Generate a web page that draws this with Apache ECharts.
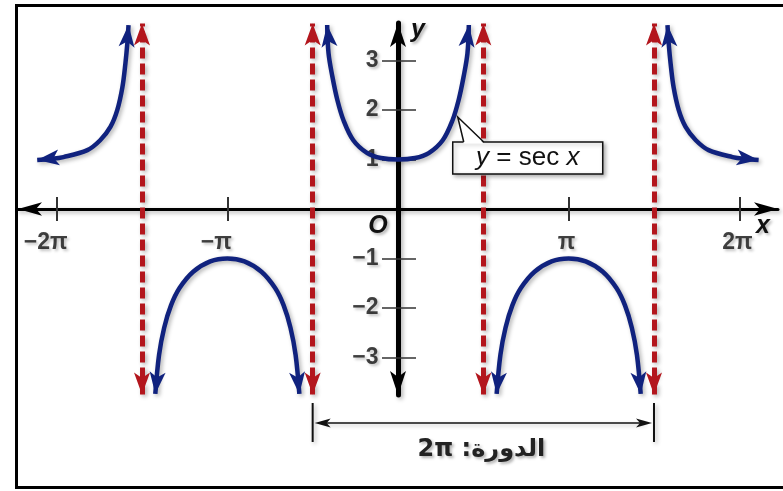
<!DOCTYPE html>
<html>
<head>
<meta charset="utf-8">
<title>y = sec x</title>
<script src="https://cdn.jsdelivr.net/npm/echarts@6/dist/echarts.min.js"></script>
<style>
html, body { margin: 0; padding: 0; background: #fff; }
#chart { width: 783px; height: 491px; }
</style>
</head>
<body>
<div id="chart"></div>
<script>
// x values are in multiples of pi
const xTickVals = [-2, -1, 1, 2];
const xTickLabels = ['−2π', '−π', 'π', '2π'];
const yTickVals = [-3, -2, -1, 1, 2, 3];
const yTickLabels = ['−3', '−2', '−1', '1', '2', '3'];
const asymptotes = [-1.5, -0.5, 0.5, 1.5];

// branches of y = sec x (ends are the arrow tips)
const leftUpX = [-2.114, -2.04, -1.96, -1.82, -1.745, -1.685, -1.645, -1.615, -1.597, -1.586, -1.579];
const leftUpY = [0.99, 1.01, 1.05, 1.19, 1.39, 1.66, 2.0, 2.46, 2.95, 3.35, 3.72];
const lowLeftX = [-1.422, -1.40, -1.37, -1.33, -1.28, -1.2, -1.1, -1.0, -0.9, -0.8, -0.72, -0.67, -0.63, -0.60, -0.578];
const lowLeftY = [-3.74, -2.95, -2.4, -1.95, -1.6, -1.27, -1.06, -1.0, -1.06, -1.27, -1.6, -1.95, -2.4, -2.95, -3.74];
const centerX = [-0.415, -0.407, -0.384, -0.355, -0.32, -0.262, -0.18, -0.1, 0, 0.1, 0.18, 0.262, 0.32, 0.355, 0.384, 0.407, 0.415];
const centerY = [3.72, 3.15, 2.67, 2.2, 1.8, 1.39, 1.13, 1.03, 1.0, 1.03, 1.13, 1.39, 1.8, 2.2, 2.67, 3.15, 3.72];
const lowRightX = [0.578, 0.60, 0.63, 0.67, 0.72, 0.8, 0.9, 1.0, 1.1, 1.2, 1.28, 1.33, 1.37, 1.40, 1.422];
const lowRightY = [-3.74, -2.95, -2.4, -1.95, -1.6, -1.27, -1.06, -1.0, -1.06, -1.27, -1.6, -1.95, -2.4, -2.95, -3.74];
const rightUpX = [1.579, 1.586, 1.597, 1.615, 1.645, 1.685, 1.745, 1.82, 1.96, 2.04, 2.113];
const rightUpY = [3.72, 3.35, 2.95, 2.46, 2.0, 1.66, 1.39, 1.19, 1.05, 1.01, 0.99];

const periodFrom = -0.5;
const periodTo = 1.5;
const periodText = '\u202Bالدورة: 2π\u202C';
const calloutAt = [0.35, 1.86];

const xMin = -2.2265, xMax = 2.2265;
const yMin = -3.762, yMax = 3.762;
const blue = '#10227e';
const red = '#b3161d';
const shadow = { shadowColor: 'rgba(0,0,0,0.3)', shadowBlur: 4, shadowOffsetX: 2, shadowOffsetY: 2 };
const textShadow = { textShadowColor: 'rgba(0,0,0,0.3)', textShadowBlur: 3, textShadowOffsetX: 2, textShadowOffsetY: 2 };

let chart = echarts.init(document.getElementById('chart'));

function branch (xs, ys, rotStart, rotEnd) {
    return xs.map((x, i) => {
        let item = {value: [x, ys[i]]};
        if (i === 0 || i === xs.length - 1) {
            item.symbol = 'arrow';
            item.symbolSize = [12, 22];
            item.symbolRotate = i === 0 ? rotStart : rotEnd;
        }
        return item;
    });
}

function curve (name, data) {
    return {
        name: name,
        type: 'line',
        data: data,
        smooth: 0.35,
        symbol: 'none',
        showSymbol: true,
        clip: false,
        z: 4,
        lineStyle: Object.assign({color: blue, width: 4.5}, shadow),
        itemStyle: {color: blue}
    };
}

let labelFont = Object.assign({fontFamily: 'Liberation Sans', fontSize: 23, fontWeight: 'bold', color: '#111'}, textShadow);

// tick labels sit on the zero lines, so they are drawn as labels of invisible points
function tickText (name, data, position, distance) {
    return {
        name: name,
        type: 'scatter',
        data: data,
        symbol: 'circle',
        symbolSize: 1,
        silent: true,
        clip: false,
        z: 2,
        itemStyle: {color: 'rgba(0,0,0,0)'},
        label: Object.assign({show: true, position: position, distance: distance, formatter: p => p.name}, labelFont)
    };
}

let series = [
    curve('leftUp', branch(leftUpX, leftUpY, 97, -5)),
    curve('lowLeft', branch(lowLeftX, lowLeftY, 174, 186)),
    curve('center', branch(centerX, centerY, 6, -6)),
    curve('lowRight', branch(lowRightX, lowRightY, 174, 186)),
    curve('rightUp', branch(rightUpX, rightUpY, 5, 263)),
    {
        name: 'asymptotes',
        type: 'line',
        data: [],
        z: 3,
        markLine: {
            silent: true,
            symbol: ['arrow', 'arrow'],
            symbolSize: [12, 22],
            label: {show: false},
            lineStyle: Object.assign({color: red, width: 5, type: [11, 5], opacity: 1}, shadow),
            data: asymptotes.map(a => [{coord: [a, -3.75]}, {coord: [a, 3.75]}])
        }
    },
    tickText('xTicks', xTickVals.map((v, i) => ({
        value: [v, 0], name: xTickLabels[i],
        label: {offset: [v < 0 ? -11 : -2, 0]}
    })), 'bottom', 22),
    tickText('yTicks', yTickVals.map((v, i) => ({
        value: [0, v], name: yTickLabels[i]
    })), 'left', 19)
];

chart.setOption({
    animation: false,
    backgroundColor: '#fff',
    grid: {left: 18, top: 23, width: 760, height: 372, containLabel: false, outerBoundsMode: 'none'},
    xAxis: [
        {
            type: 'value', min: xMin, max: xMax, position: 'bottom',
            splitLine: {show: false},
            axisLine: {onZero: true, onZeroAxisIndex: 0, symbol: ['arrow', 'arrow'], symbolSize: [10, 24],
                lineStyle: Object.assign({color: '#000', width: 3}, shadow)},
            axisTick: {customValues: xTickVals, length: 12, lineStyle: {color: '#333', width: 2}},
            axisLabel: {show: false}
        },
        {
            type: 'value', min: xMin, max: xMax, position: 'top',
            splitLine: {show: false},
            axisLine: {show: false, onZero: true, onZeroAxisIndex: 0},
            axisTick: {customValues: xTickVals, length: 12, lineStyle: {color: '#333', width: 2}},
            axisLabel: {show: false}
        }
    ],
    yAxis: [
        {
            type: 'value', min: yMin, max: yMax, position: 'left',
            splitLine: {show: false},
            axisLine: {onZero: true, onZeroAxisIndex: 0, symbol: ['arrow', 'arrow'], symbolSize: [12, 24],
                lineStyle: Object.assign({color: '#000', width: 5}, shadow)},
            axisTick: {customValues: yTickVals, length: 16, lineStyle: {color: '#333', width: 1.5}},
            axisLabel: {show: false}
        },
        {
            type: 'value', min: yMin, max: yMax, position: 'right',
            splitLine: {show: false},
            axisLine: {show: false, onZero: true, onZeroAxisIndex: 0},
            axisTick: {customValues: yTickVals, length: 18, lineStyle: {color: '#333', width: 1.5}},
            axisLabel: {show: false}
        }
    ],
    series: series
});

// annotations placed from the axes' own scales
let px = p => chart.convertToPixel({gridIndex: 0}, p);
let o = px([0, 0]);
let xEnd = px([xMax, 0]);
let yEnd = px([0, yMax]);
let tip = px(calloutAt);
let pA = px([periodFrom, 0]);
let pB = px([periodTo, 0]);
let shaftY = o[1] + 214;
let italic = {fontFamily: 'Liberation Sans', fontStyle: 'italic', fontWeight: 'bold', fontSize: 25, fill: '#111'};

chart.setOption({
    graphic: [
        {type: 'rect', z: 100, silent: true,
            shape: {x: 16.5, y: 5.5, width: 800, height: 482},
            style: {fill: 'none', stroke: '#000', lineWidth: 3}},
        {type: 'text', z: 100, x: o[0] - 20, y: o[1] + 17,
            style: Object.assign({text: 'O', align: 'center', verticalAlign: 'middle'}, italic, textShadow)},
        {type: 'text', z: 100, x: xEnd[0] - 15, y: xEnd[1] + 17,
            style: Object.assign({text: 'x', align: 'center', verticalAlign: 'middle'}, italic, textShadow)},
        {type: 'text', z: 100, x: yEnd[0] + 20, y: yEnd[1] + 7,
            style: Object.assign({text: 'y', align: 'center', verticalAlign: 'middle'}, italic, textShadow)},
        // callout box
        {type: 'rect', z: 100, silent: true,
            shape: {x: tip[0] - 5, y: tip[1] + 25, width: 150, height: 32},
            style: Object.assign({fill: '#fff', stroke: '#111', lineWidth: 1.5}, shadow)},
        {type: 'polygon', z: 101, silent: true,
            shape: {points: [[tip[0], tip[1]], [tip[0] + 6, tip[1] + 26.5], [tip[0] + 26, tip[1] + 26.5]]},
            style: {fill: '#fff'}},
        {type: 'polyline', z: 102, silent: true,
            shape: {points: [[tip[0] + 6, tip[1] + 25], [tip[0], tip[1]], [tip[0] + 26, tip[1] + 25]]},
            style: {stroke: '#111', lineWidth: 1.5, fill: 'none'}},
        {type: 'text', z: 103, x: tip[0] + 70, y: tip[1] + 41,
            style: {
                text: '{i|y} = sec {i|x}',
                align: 'center', verticalAlign: 'middle',
                fontFamily: 'Liberation Sans', fontSize: 26, fill: '#111',
                rich: {i: {fontFamily: 'Liberation Sans', fontStyle: 'italic', fontSize: 26, fill: '#111'}}
            }},
        // period bracket
        {type: 'line', z: 100, silent: true,
            shape: {x1: pA[0], y1: shaftY - 20, x2: pA[0], y2: shaftY + 19},
            style: Object.assign({stroke: '#111', lineWidth: 2}, shadow)},
        {type: 'line', z: 100, silent: true,
            shape: {x1: pB[0], y1: shaftY - 20, x2: pB[0], y2: shaftY + 19},
            style: Object.assign({stroke: '#111', lineWidth: 2}, shadow)},
        {type: 'line', z: 100, silent: true,
            shape: {x1: pA[0] + 10, y1: shaftY, x2: pB[0] - 10, y2: shaftY},
            style: Object.assign({stroke: '#111', lineWidth: 1.5}, shadow)},
        {type: 'polygon', z: 100, silent: true,
            shape: {points: [[pA[0] + 2, shaftY], [pA[0] + 18, shaftY - 4.5], [pA[0] + 14, shaftY], [pA[0] + 18, shaftY + 4.5]]},
            style: {fill: '#111'}},
        {type: 'polygon', z: 100, silent: true,
            shape: {points: [[pB[0] - 2, shaftY], [pB[0] - 18, shaftY - 4.5], [pB[0] - 14, shaftY], [pB[0] - 18, shaftY + 4.5]]},
            style: {fill: '#111'}},
        {type: 'text', z: 100, x: (pA[0] + pB[0]) / 2 - 2, y: shaftY + 27,
            style: Object.assign({
                text: periodText, align: 'center', verticalAlign: 'middle',
                fontFamily: 'DejaVu Sans', fontWeight: 'bold', fontSize: 24, fill: '#222'
            }, textShadow)}
    ]
});
</script>
</body>
</html>
